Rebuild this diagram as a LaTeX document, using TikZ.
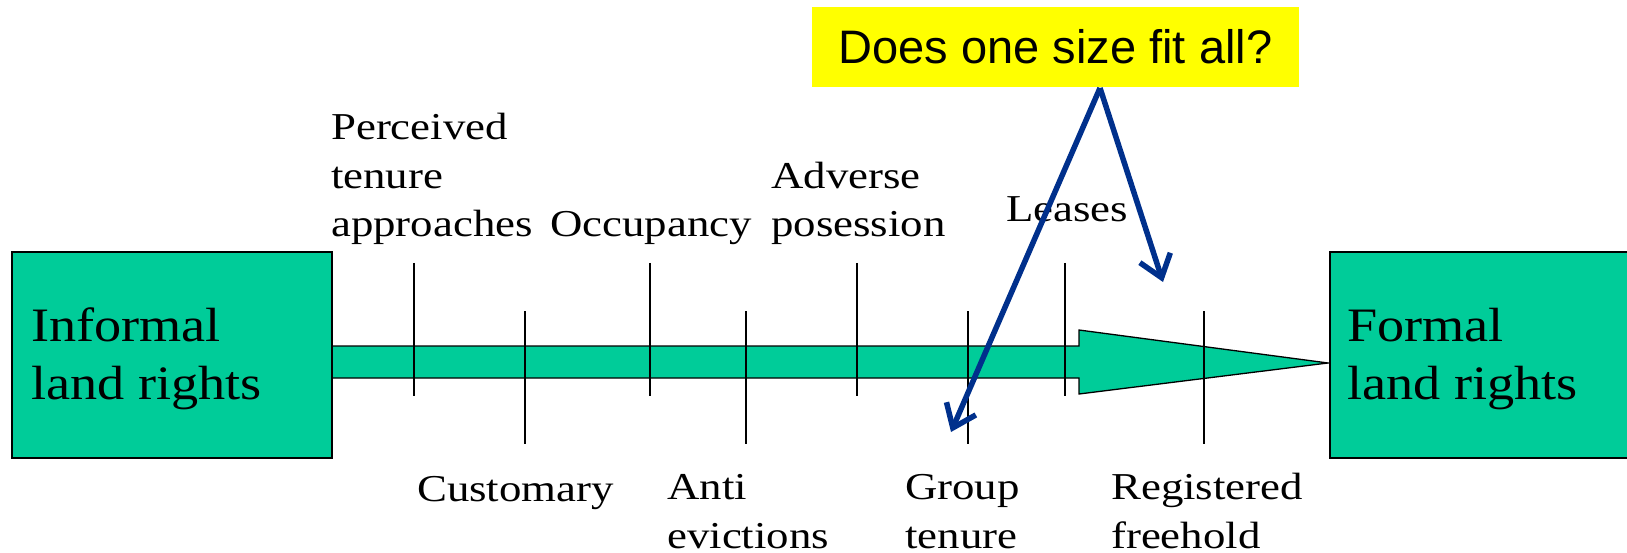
\documentclass[tikz,border=0pt]{standalone}
\usepackage{fontspec}
\setmainfont{Liberation Serif}
\newfontfamily\lblfont[FakeStretch=1.18]{Liberation Serif}
\newfontfamily\bigfont[FakeStretch=1.13]{Liberation Serif}
\newfontfamily\qfont{Liberation Sans}
\usetikzlibrary{arrows.meta}
\definecolor{tealfill}{RGB}{0,204,153}
\definecolor{navyline}{RGB}{0,48,140}
\definecolor{qyellow}{RGB}{255,255,0}
\begin{document}
\begin{tikzpicture}[x=1pt,y=-1pt,
  lbl/.style={anchor=base west,inner sep=0pt,align=left,font=\lblfont\fontsize{38}{48.5}\selectfont},
  biglbl/.style={anchor=base west,inner sep=0pt,align=left,font=\bigfont\fontsize{48}{57.5}\selectfont},
  endbox/.style={draw=black,line width=1.6pt,fill=tealfill,inner sep=0pt,anchor=north west},
  tick/.style={draw=black,line width=1.8pt},
  flow/.style={draw=black,line width=1.3pt,fill=tealfill,line join=miter},
  qbox/.style={fill=qyellow,inner sep=0pt,minimum width=487pt,minimum height=80pt,font=\qfont\fontsize{47}{56}\selectfont},
  pointer/.style={draw=navyline,line width=5.5pt,-{Straight Barb[length=21pt,width=32pt]}}]
\useasboundingbox (0,0) rectangle (1627,553);
% main flow arrow
\path[flow] (331,346) -- (1079,346) -- (1079,330) -- (1328,363) -- (1079,394) -- (1079,378) -- (331,378) -- cycle;
% end boxes
\node[endbox,minimum width=320pt,minimum height=206pt] (inf) at (11,251) {};
\node[endbox,minimum width=300pt,minimum height=206pt] (frm) at (1329,251) {};
\node[biglbl] (inft) at (31,399) {Informal\\land rights};
\node[biglbl] (frmt) at (1347,399) {Formal\\land rights};
% ticks
\coordinate (u1a) at (414,263); \coordinate (u1b) at (414,396);
\coordinate (u2a) at (650,263); \coordinate (u2b) at (650,396);
\coordinate (u3a) at (857,263); \coordinate (u3b) at (857,396);
\coordinate (u4a) at (1065,263); \coordinate (u4b) at (1065,396);
\coordinate (l1a) at (525,311); \coordinate (l1b) at (525,444);
\coordinate (l2a) at (746,311); \coordinate (l2b) at (746,444);
\coordinate (l3a) at (968,311); \coordinate (l3b) at (968,444);
\coordinate (l4a) at (1204,311); \coordinate (l4b) at (1204,444);
\foreach \t in {u1,u2,u3,u4,l1,l2,l3,l4} {\draw[tick] (\t a) -- (\t b);}
% labels
\node[lbl] (perc) at (331,237) {Perceived\\tenure\\approaches};
\node[lbl] (occ) at (550,237) {Occupancy};
\node[lbl] (adv) at (771,237) {Adverse\\posession};
\node[lbl] (lea) at (1006,222) {Leases};
\node[lbl] (cust) at (417,501) {Customary};
\node[lbl] (anti) at (667,548) {Anti\\evictions};
\node[lbl] (grp) at (905,548) {Group\\tenure};
\node[lbl] (reg) at (1111,548) {Registered\\freehold};
% question
\node[qbox] (q) at (1055.5,47) {Does one size fit all?};
\coordinate (apex) at (1100,88);
\coordinate (gt) at (951,432);
\coordinate (rf) at (1163,282);
\draw[pointer] (apex) -- (gt);
\draw[pointer] (apex) -- (rf);
\end{tikzpicture}
\end{document}
